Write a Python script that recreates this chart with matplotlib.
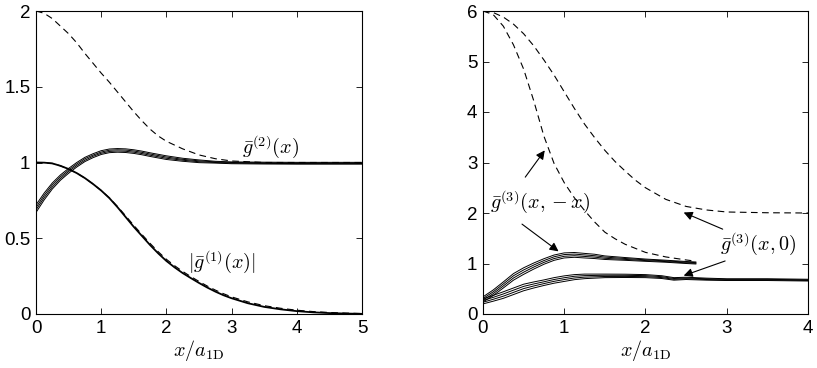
import matplotlib
matplotlib.use("Agg")
import matplotlib.pyplot as plt

plt.rcParams['font.family'] = ['Liberation Sans', 'DejaVu Sans']
plt.rcParams['mathtext.fontset'] = 'cm'

# ---------------- left panel data ----------------
x_g2_ideal = [0, 0.125, 0.25, 0.375, 0.5, 0.625, 0.75, 0.875, 1.0, 1.125, 1.25, 1.375, 1.5,
              1.625, 1.75, 1.875, 2.0, 2.25, 2.5, 2.75, 3.0, 3.5, 4.0, 5.0]
g2_ideal = [2.0, 1.985, 1.95, 1.90, 1.85, 1.79, 1.72, 1.655, 1.59, 1.53, 1.465, 1.40, 1.335,
            1.275, 1.22, 1.175, 1.14, 1.09, 1.05, 1.025, 1.01, 1.0, 1.0, 1.0]

x_g1 = [0, 0.125, 0.25, 0.375, 0.5, 0.625, 0.75, 0.875, 1.0, 1.125, 1.25, 1.375, 1.5, 1.625,
        1.75, 1.875, 2.0, 2.125, 2.25, 2.375, 2.5, 2.625, 2.75, 2.875, 3.0, 3.25, 3.5, 3.75,
        4.0, 4.25, 4.5, 4.75, 5.0]
g1_solid = [1.0, 0.999, 0.994, 0.978, 0.957, 0.93, 0.897, 0.858, 0.815, 0.765, 0.705, 0.64,
            0.575, 0.515, 0.455, 0.40, 0.35, 0.308, 0.27, 0.237, 0.205, 0.175, 0.148, 0.124,
            0.104, 0.071, 0.047, 0.031, 0.019, 0.011, 0.006, 0.003, 0.001]
g1_dashed = [1.0, 0.999, 0.994, 0.978, 0.957, 0.93, 0.897, 0.858, 0.815, 0.767, 0.71, 0.648,
             0.585, 0.525, 0.466, 0.411, 0.361, 0.319, 0.281, 0.247, 0.215, 0.185, 0.158, 0.134,
             0.113, 0.08, 0.055, 0.038, 0.025, 0.016, 0.01, 0.006, 0.003]

x_g2 = [0, 0.125, 0.25, 0.375, 0.5, 0.625, 0.75, 0.875, 1.0, 1.125, 1.25, 1.375, 1.5, 1.625,
        1.75, 1.875, 2.0, 2.25, 2.5, 2.75, 3.0, 3.5, 4.0, 4.5, 5.0]
g2_band = [
    [0.670, 0.753, 0.825, 0.883, 0.929, 0.970, 1.006, 1.032, 1.053, 1.065, 1.068, 1.066, 1.060,
     1.051, 1.040, 1.030, 1.020, 1.008, 0.999, 0.996, 0.992, 0.990, 0.989, 0.989, 0.989],
    [0.687, 0.768, 0.838, 0.894, 0.940, 0.980, 1.015, 1.041, 1.061, 1.073, 1.076, 1.074, 1.068,
     1.059, 1.048, 1.038, 1.028, 1.015, 1.005, 1.000, 0.996, 0.994, 0.993, 0.993, 0.993],
    [0.703, 0.783, 0.852, 0.906, 0.950, 0.990, 1.025, 1.049, 1.069, 1.081, 1.084, 1.082, 1.076,
     1.067, 1.056, 1.046, 1.036, 1.021, 1.011, 1.004, 1.000, 0.998, 0.997, 0.997, 0.997],
    [0.720, 0.798, 0.865, 0.918, 0.961, 1.000, 1.034, 1.058, 1.078, 1.089, 1.092, 1.090, 1.084,
     1.075, 1.064, 1.054, 1.044, 1.028, 1.017, 1.008, 1.004, 1.002, 1.001, 1.001, 1.001],
]

# ---------------- right panel data ----------------
x_outer = [0, 0.125, 0.25, 0.375, 0.5, 0.625, 0.75, 0.875, 1.0, 1.125, 1.25, 1.375, 1.5,
           1.625, 1.75, 1.875, 2.0, 2.25, 2.5, 2.75, 3.0, 3.5, 4.0]
g3_x0_ideal = [6.0, 5.97, 5.88, 5.74, 5.55, 5.31, 5.03, 4.73, 4.40, 4.07, 3.76, 3.49, 3.24,
               3.02, 2.83, 2.65, 2.50, 2.27, 2.13, 2.06, 2.02, 2.005, 2.0]

x_inner = [0, 0.125, 0.25, 0.375, 0.5, 0.625, 0.75, 0.875, 1.0, 1.125, 1.25, 1.375, 1.5,
           1.625, 1.75, 1.875, 2.0, 2.25, 2.5, 2.6]
g3_xmx_ideal = [6.0, 5.93, 5.70, 5.33, 4.85, 4.22, 3.52, 2.98, 2.60, 2.30, 2.05, 1.82, 1.62,
                1.49, 1.38, 1.30, 1.22, 1.13, 1.07, 1.05]

x_up = [0, 0.125, 0.25, 0.375, 0.5, 0.625, 0.75, 0.875, 1.0, 1.125, 1.25, 1.375, 1.5, 1.75,
        2.0, 2.25, 2.5, 2.62]
g3_xmx_band = [
    [0.240, 0.365, 0.515, 0.670, 0.785, 0.890, 0.985, 1.063, 1.110, 1.123, 1.110, 1.098, 1.080,
     1.063, 1.043, 1.025, 1.000, 0.990],
    [0.273, 0.402, 0.555, 0.713, 0.828, 0.930, 1.022, 1.098, 1.143, 1.154, 1.140, 1.126, 1.103,
     1.081, 1.058, 1.038, 1.013, 1.003],
    [0.307, 0.438, 0.595, 0.757, 0.872, 0.970, 1.058, 1.133, 1.177, 1.186, 1.170, 1.154, 1.127,
     1.099, 1.073, 1.052, 1.027, 1.017],
    [0.340, 0.475, 0.635, 0.800, 0.915, 1.010, 1.095, 1.168, 1.210, 1.218, 1.200, 1.183, 1.150,
     1.118, 1.088, 1.065, 1.040, 1.030],
]

x_low = [0, 0.125, 0.25, 0.375, 0.5, 0.625, 0.75, 0.875, 1.0, 1.125, 1.25, 1.5, 1.75, 2.0,
         2.2, 2.35, 2.5, 2.75, 3.0, 3.5, 4.0]
g3_x0_band = [
    [0.200, 0.253, 0.310, 0.385, 0.460, 0.515, 0.565, 0.610, 0.645, 0.680, 0.700, 0.720, 0.723,
     0.720, 0.703, 0.670, 0.683, 0.670, 0.663, 0.663, 0.653],
    [0.233, 0.291, 0.353, 0.428, 0.503, 0.555, 0.602, 0.647, 0.682, 0.713, 0.730, 0.743, 0.744,
     0.740, 0.721, 0.687, 0.698, 0.683, 0.674, 0.674, 0.664],
    [0.267, 0.329, 0.397, 0.472, 0.547, 0.595, 0.638, 0.683, 0.718, 0.747, 0.760, 0.767, 0.766,
     0.760, 0.739, 0.703, 0.713, 0.697, 0.686, 0.686, 0.676],
    [0.300, 0.368, 0.440, 0.515, 0.590, 0.635, 0.675, 0.720, 0.755, 0.780, 0.790, 0.790, 0.788,
     0.780, 0.758, 0.720, 0.728, 0.710, 0.698, 0.698, 0.688],
]

left_yticks = [0, 0.5, 1, 1.5, 2]
left_yticklabels = ['0', '0.5', '1', '1.5', '2']
left_xticks = [0, 1, 2, 3, 4, 5]
right_yticks = [0, 1, 2, 3, 4, 5, 6]
right_xticks = [0, 1, 2, 3, 4]

fig = plt.figure(figsize=(8.17, 3.68), dpi=100)
axL = fig.add_axes([36/817, 1-314/368, (362-36)/817, (314-11)/368])
axR = fig.add_axes([483/817, 1-314/368, (808-483)/817, (314-11)/368])

lw_solid = 0.7
lw_dash = 0.8
dash = (0, (6, 4))

# left
axL.plot(x_g2_ideal, g2_ideal, color='k', lw=lw_dash, linestyle=dash)
for line in g2_band:
    axL.plot(x_g2, line, color='k', lw=lw_solid)
axL.plot(x_g1, g1_dashed, color='k', lw=lw_dash, linestyle=dash)
axL.plot(x_g1, g1_solid, color='k', lw=1.3)
axL.text(3.59, 1.10, r'$\bar{g}^{(2)}(x)$', fontsize=14.5, ha='center', va='center')
axL.text(2.85, 0.34, r'$|\bar{g}^{(1)}(x)|$', fontsize=14.5, ha='center', va='center')
axL.set_xlim(0, 5)
axL.set_ylim(0, 2)
axL.set_xticks(left_xticks)
axL.set_yticks(left_yticks)
axL.set_yticklabels(left_yticklabels)

# right
axR.plot(x_outer, g3_x0_ideal, color='k', lw=lw_dash, linestyle=dash)
axR.plot(x_inner, g3_xmx_ideal, color='k', lw=lw_dash, linestyle=dash)
for line in g3_xmx_band:
    axR.plot(x_up, line, color='k', lw=lw_solid)
for line in g3_x0_band:
    axR.plot(x_low, line, color='k', lw=lw_solid)
axR.text(0.70, 2.2, r'$\bar{g}^{(3)}(x,-x)$', fontsize=14.5, ha='center', va='center')
axR.text(3.38, 1.37, r'$\bar{g}^{(3)}(x,0)$', fontsize=14.5, ha='center', va='center')
ap = dict(arrowstyle='-|>', color='k', lw=0.8, mutation_scale=13, shrinkA=0, shrinkB=0)
axR.annotate('', xy=(0.76, 3.24), xytext=(0.52, 2.71), arrowprops=ap)
axR.annotate('', xy=(0.93, 1.24), xytext=(0.48, 1.78), arrowprops=ap)
axR.annotate('', xy=(2.47, 2.01), xytext=(2.95, 1.68), arrowprops=ap)
axR.annotate('', xy=(2.47, 0.76), xytext=(2.98, 1.05), arrowprops=ap)
axR.set_xlim(0, 4)
axR.set_ylim(0, 6)
axR.set_xticks(right_xticks)
axR.set_yticks(right_yticks)

for ax in (axL, axR):
    ax.tick_params(direction='in', top=True, right=True, length=4, width=0.6,
                   labelsize=13.5, pad=4)
    for s in ax.spines.values():
        s.set_linewidth(0.8)
    ax.set_xlabel(r'$x/a_{\rm 1D}$', fontsize=14.5, labelpad=1)

fig.savefig('out.png', dpi=100)
